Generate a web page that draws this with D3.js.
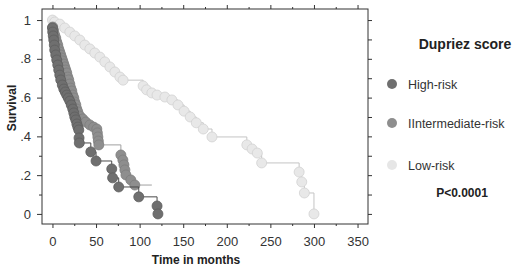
<!DOCTYPE html>
<html>
<head>
<meta charset="utf-8">
<script src="https://cdn.jsdelivr.net/npm/d3@7"></script>
<style>
  body { margin: 0; background: #fff; }
  text { font-family: "Liberation Sans", Arial, sans-serif; }
</style>
</head>
<body>
<div class="canvas"></div>
<script>
// Kaplan-Meier points (time in months, survival)
const highT = [0, 0.3, 0.9, 1.5, 2.1, 2.6, 3.8, 4.9, 6.1, 7.2, 8.4, 9.5, 11.3, 13.0, 14.7, 16.4, 18.2, 19.9, 21.6, 23.3, 24.5, 25.6, 26.8, 28, 29.1, 30.2, 30.5, 30.8, 44, 50, 68, 69, 76, 99, 120, 121];
const highS = [0.959, 0.938, 0.918, 0.897, 0.871, 0.845, 0.82, 0.794, 0.768, 0.742, 0.716, 0.691, 0.665, 0.644, 0.629, 0.613, 0.598, 0.582, 0.562, 0.541, 0.521, 0.5, 0.485, 0.464, 0.448, 0.433, 0.392, 0.366, 0.32, 0.273, 0.232, 0.186, 0.139, 0.088, 0.041, 0];

const interT = [0.3, 1.5, 2.6, 3.8, 4.9, 6.1, 7.2, 8.4, 9.5, 10.7, 11.8, 13.0, 14.1, 15.3, 16.4, 17.6, 18.7, 19.9, 21.0, 22.2, 23.3, 24.5, 25.6, 26.8, 27.9, 29.1, 31.4, 34.8, 38.3, 42.9, 47.2, 50.9, 51.5, 52.1, 52.6, 53.2, 78.5, 80.8, 82, 83.1, 84.3, 89.9, 94.5];
const interS = [0.964, 0.943, 0.923, 0.907, 0.887, 0.871, 0.851, 0.835, 0.82, 0.804, 0.789, 0.773, 0.758, 0.742, 0.727, 0.706, 0.691, 0.67, 0.649, 0.634, 0.613, 0.598, 0.577, 0.562, 0.541, 0.526, 0.505, 0.49, 0.474, 0.459, 0.448, 0.438, 0.418, 0.397, 0.376, 0.356, 0.304, 0.278, 0.253, 0.227, 0.201, 0.175, 0.149];
const interEnd = 114;

const lowT = [0, 2.6, 8.4, 14.1, 19.9, 25.6, 31.4, 37.1, 42.9, 48.6, 54.4, 60.1, 65.9, 71.6, 77.4, 81, 104, 108, 114, 120, 129, 137, 144, 151, 158, 165, 173, 183, 223, 229, 235, 240, 283, 286, 289, 300];
const lowS = [1.0, 0.99, 0.979, 0.959, 0.938, 0.918, 0.897, 0.871, 0.851, 0.83, 0.809, 0.784, 0.758, 0.732, 0.706, 0.69, 0.66, 0.64, 0.624, 0.613, 0.603, 0.588, 0.562, 0.53, 0.5, 0.47, 0.438, 0.397, 0.356, 0.335, 0.314, 0.263, 0.216, 0.165, 0.108, 0];

const xTicks = [0, 50, 100, 150, 200, 250, 300, 350];
const xMinor = [25, 75, 125, 175, 225, 275, 325];
const yTicks = [0, 0.2, 0.4, 0.6, 0.8, 1];
const yTickLabels = ["0", ".2", ".4", ".6", ".8", "1"];
const yMinor = [0.1, 0.3, 0.5, 0.7, 0.9];

const legendNames = ["High-risk", "IIntermediate-risk", "Low-risk"];
const legendFill = ["#6f6f6f", "#8e8e8e", "#e6e6e6"];

const width = 520, height = 268;
const margin = { left: 42, right: 368, top: 9, bottom: 224 };

const x = d3.scaleLinear().domain([-12, 362]).range([margin.left, margin.right]);
const y = d3.scaleLinear().domain([-0.052, 1.057]).range([margin.bottom, margin.top]);

const svg = d3.select(".canvas").append("svg")
  .attr("width", width).attr("height", height);
svg.append("rect").attr("width", width).attr("height", height).attr("fill", "#fff");

// axes
function styleAxis(g) {
  g.select(".domain").remove();
  g.selectAll(".tick line").attr("stroke", "#333");
  g.selectAll(".tick text").attr("fill", "#333").style("font-size", "13px")
    .style("font-family", "'Liberation Sans', Arial, sans-serif");
}
svg.append("g").attr("transform", `translate(0,${margin.bottom})`)
  .call(d3.axisBottom(x).tickValues(xTicks).tickSize(4).tickPadding(9))
  .call(styleAxis);
svg.append("g").attr("transform", `translate(0,${margin.bottom})`)
  .call(d3.axisBottom(x).tickValues(xMinor).tickSize(2).tickFormat(""))
  .call(styleAxis);
svg.append("g").attr("transform", `translate(0,${margin.top})`)
  .call(d3.axisTop(x).tickValues(xTicks).tickSize(4).tickFormat(""))
  .call(styleAxis);
svg.append("g").attr("transform", `translate(0,${margin.top})`)
  .call(d3.axisTop(x).tickValues(xMinor).tickSize(2).tickFormat(""))
  .call(styleAxis);
svg.append("g").attr("transform", `translate(${margin.left},0)`)
  .call(d3.axisLeft(y).tickValues(yTicks).tickSize(5).tickPadding(6)
    .tickFormat((d, i) => yTickLabels[i]))
  .call(styleAxis);
svg.append("g").attr("transform", `translate(${margin.left},0)`)
  .call(d3.axisLeft(y).tickValues(yMinor).tickSize(3).tickFormat(""))
  .call(styleAxis);
svg.append("g").attr("transform", `translate(${margin.right},0)`)
  .call(d3.axisRight(y).tickValues(yTicks.concat(yMinor)).tickSize(4).tickFormat(""))
  .call(styleAxis);

svg.append("rect")
  .attr("x", margin.left).attr("y", margin.top)
  .attr("width", margin.right - margin.left).attr("height", margin.bottom - margin.top)
  .attr("fill", "none").attr("stroke", "#333").attr("stroke-width", 1);

// curves
const line = d3.line().x(d => x(d[0])).y(d => y(d[1])).curve(d3.curveStepAfter);

const series = [
  { t: lowT, s: lowS, fill: "#e8e8e8", stroke: "#d2d2d2", line: "#c4c4c4" },
  { t: interT, s: interS, fill: "#8e8e8e", stroke: "#7e7e7e", line: "#a0a0a0", end: interEnd },
  { t: highT, s: highS, fill: "#6f6f6f", stroke: "#5e5e5e", line: "#4a4a4a" }
];

series.forEach(ser => {
  const pts = ser.t.map((t, i) => [t, ser.s[i]]);
  const linePts = ser.end ? pts.concat([[ser.end, pts[pts.length - 1][1]]]) : pts;
  svg.append("path").datum(linePts)
    .attr("d", line).attr("fill", "none")
    .attr("stroke", ser.line).attr("stroke-width", 1);
  svg.append("g").selectAll("circle").data(pts).join("circle")
    .attr("cx", d => x(d[0])).attr("cy", d => y(d[1])).attr("r", 5)
    .attr("fill", ser.fill).attr("stroke", ser.stroke).attr("stroke-width", 0.8);
});

// axis titles
svg.append("text")
  .attr("transform", "translate(16,108) rotate(-90)")
  .attr("text-anchor", "middle")
  .style("font-size", "12px").style("font-weight", "bold").attr("fill", "#222")
  .text("Survival");
svg.append("text")
  .attr("x", 196).attr("y", 264).attr("text-anchor", "middle")
  .style("font-size", "12px").style("font-weight", "bold").attr("fill", "#222")
  .text("Time in months");

// legend
svg.append("text")
  .attr("x", 465).attr("y", 49).attr("text-anchor", "middle")
  .style("font-size", "14px").style("font-weight", "bold").attr("fill", "#222")
  .text("Dupriez score");

const legendY = [84, 123, 165];
const lg = svg.append("g").selectAll("g").data(legendNames).join("g")
  .attr("transform", (d, i) => `translate(392,${legendY[i]})`);
lg.append("circle").attr("r", 5)
  .attr("fill", (d, i) => legendFill[i]);
lg.append("text").attr("x", 16).attr("y", 4.5)
  .style("font-size", "12.5px").attr("fill", "#333")
  .text(d => d);

svg.append("text")
  .attr("x", 462).attr("y", 197).attr("text-anchor", "middle")
  .style("font-size", "12px").style("font-weight", "bold").attr("fill", "#222")
  .text("P<0.0001");
</script>
</body>
</html>
